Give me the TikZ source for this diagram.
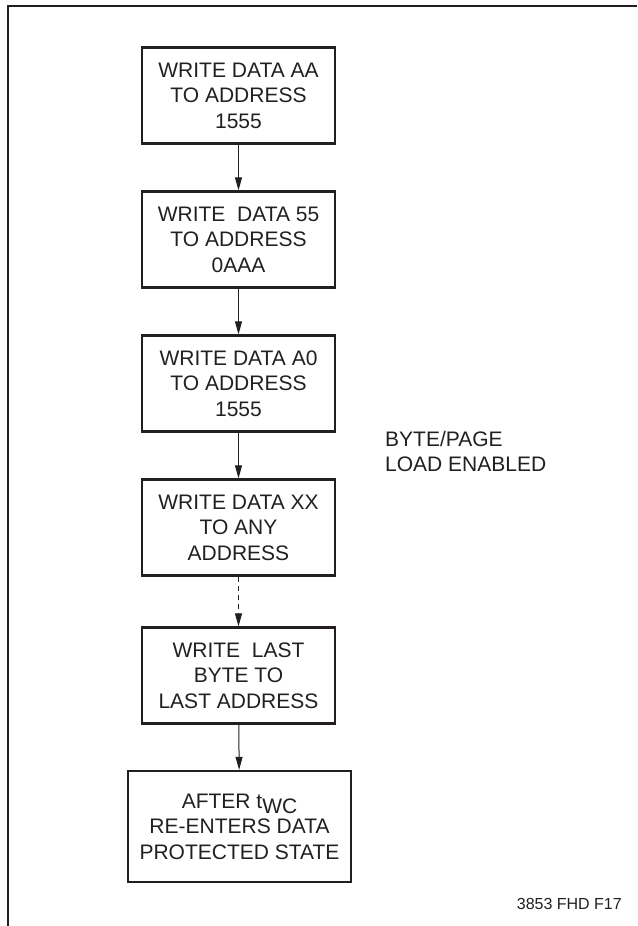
\documentclass[tikz,border=0pt]{standalone}
\usepackage{fontspec}
\setmainfont{Liberation Sans}
\usetikzlibrary{arrows.meta}
\definecolor{ink}{RGB}{35,31,32}
\begin{document}
\begin{tikzpicture}[x=1pt,y=-1pt,
  stepbox/.style={draw=ink,line width=2.2pt,inner sep=0pt,align=center,
    minimum width=193pt,minimum height=96pt,text=ink,
    font=\fontsize{21}{25.5}\selectfont},
  flow/.style={draw=ink,line width=1pt,-{Triangle[length=13pt,width=7pt]}},
  lbl/.style={inner sep=0pt,text=ink}]
\useasboundingbox (0,0) rectangle (637,926);
\coordinate (tl) at (8,6);
\coordinate (tr) at (637,6);
\coordinate (bl) at (8,926);
\draw[ink,line width=1.2pt] (tr) -- (tl) -- (bl);
\node[stepbox] (b1) at (238.5,95.5) {WRITE DATA AA\\TO ADDRESS\\1555};
\node[stepbox] (b2) at (238.5,239.5) {WRITE~~DATA 55\\TO ADDRESS\\0AAA};
\node[stepbox] (b3) at (238.5,383.5) {WRITE DATA A0\\TO ADDRESS\\1555};
\node[stepbox] (b4) at (238.5,527.5) {WRITE DATA XX\\TO ANY\\ADDRESS};
\node[stepbox] (b5) at (238.5,675.5) {WRITE~~LAST\\BYTE TO\\LAST ADDRESS};
\node[stepbox,minimum width=223pt,minimum height=111pt] (b6) at (239.5,826.5)
  {AFTER t\raisebox{-5pt}{WC}\\RE-ENTERS DATA\\PROTECTED STATE};
\draw[flow] (b1) -- (b2);
\draw[flow] (b2) -- (b3);
\draw[flow] (b3) -- (b4);
\draw[flow,dash pattern=on 5pt off 4pt] (b4) -- (b5);
\draw[flow] (b5) -- (b6);
\node[lbl,anchor=west,align=left,font=\fontsize{21}{25}\selectfont] (note) at (385,451)
  {BYTE/PAGE\\LOAD ENABLED};
\node[lbl,anchor=base east,font=\fontsize{16}{19}\selectfont] (fig) at (622,909) {3853 FHD F17};
\end{tikzpicture}
\end{document}
